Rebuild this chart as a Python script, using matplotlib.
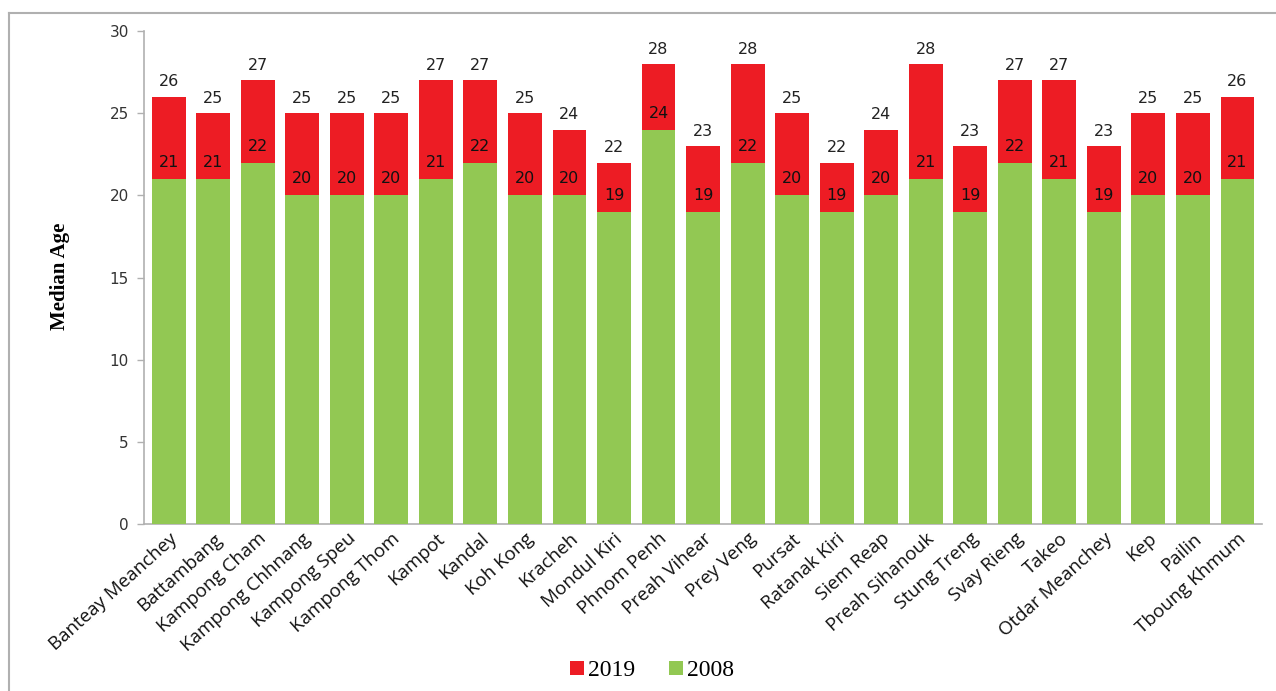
import matplotlib.pyplot as plt
from matplotlib.lines import Line2D
import numpy as np

## Data
provinces = ["Banteay Meanchey", "Battambang", "Kampong Cham", "Kampong Chhnang",
             "Kampong Speu", "Kampong Thom", "Kampot", "Kandal", "Koh Kong", "Kracheh",
             "Mondul Kiri", "Phnom Penh", "Preah Vihear", "Prey Veng", "Pursat",
             "Ratanak Kiri", "Siem Reap", "Preah Sihanouk", "Stung Treng", "Svay Rieng",
             "Takeo", "Otdar Meanchey", "Kep", "Pailin", "Tboung Khmum"]
age_2019 = [26, 25, 27, 25, 25, 25, 27, 27, 25, 24, 22, 28, 23, 28, 25,
            22, 24, 28, 23, 27, 27, 23, 25, 25, 26]
age_2008 = [21, 21, 22, 20, 20, 20, 21, 22, 20, 20, 19, 24, 19, 22, 20,
            19, 20, 21, 19, 22, 21, 19, 20, 20, 21]
yticks = [0, 5, 10, 15, 20, 25, 30]

red = "#ED1C24"
green = "#92C853"
grey = "#B0B0B0"

fig = plt.figure(figsize=(12.76, 6.91), dpi=100)
ax = fig.add_axes([0.113, 0.2417, 0.876, 0.7133])

x = np.arange(len(provinces))
w = 0.76
ax.bar(x, age_2019, width=w, color=red, label="2019", zorder=2)
ax.bar(x, age_2008, width=w, color=green, label="2008", zorder=3)

# value labels
for xi, v19, v08 in zip(x, age_2019, age_2008):
    ax.text(xi, v19 + 0.45, str(v19), ha="center", va="bottom", fontsize=11.5,
            color="#222222", zorder=4)
    ax.text(xi, v08 + 1, str(v08), ha="center", va="center", fontsize=11.5,
            color="#111111", zorder=4)

ax.set_xlim(-0.55, len(provinces) - 0.45)
ax.set_ylim(0, 30)
ax.set_yticks(yticks)
ax.tick_params(axis="y", labelsize=11, colors="#333333", length=5, width=1,
               color=grey, pad=6)
ax.tick_params(axis="x", length=0, pad=4)
ax.set_xticks(x)
ax.set_xticklabels(provinces, rotation=42, ha="right", rotation_mode="anchor",
                   fontsize=13.5, family="Open Sans", color="#111111")

for s in ["top", "right"]:
    ax.spines[s].set_visible(False)
for s in ["left", "bottom"]:
    ax.spines[s].set_color(grey)
    ax.spines[s].set_linewidth(1.2)

fig.text(0.047, 0.60, "Median Age", rotation=90, ha="center", va="center",
         fontsize=15, fontweight="bold", family="Liberation Serif")

handles = [Line2D([], [], marker="s", linestyle="none", markersize=10,
                  color=c, markeredgewidth=0) for c in (red, green)]
fig.legend(handles, ["2019", "2008"], loc="center", bbox_to_anchor=(0.51, 0.03),
           ncol=2, frameon=False, prop={"family": "Liberation Serif", "size": 17},
           handletextpad=0.1, columnspacing=1.3, handlelength=0.8)

# outer frame
fig.add_artist(Line2D([9 / 1276, 9 / 1276], [0, 1 - 12.5 / 691], color=grey, lw=1.5))
fig.add_artist(Line2D([9 / 1276, 1], [1 - 12.5 / 691, 1 - 12.5 / 691], color=grey, lw=1.5))

fig.savefig("out.png", dpi=100)
